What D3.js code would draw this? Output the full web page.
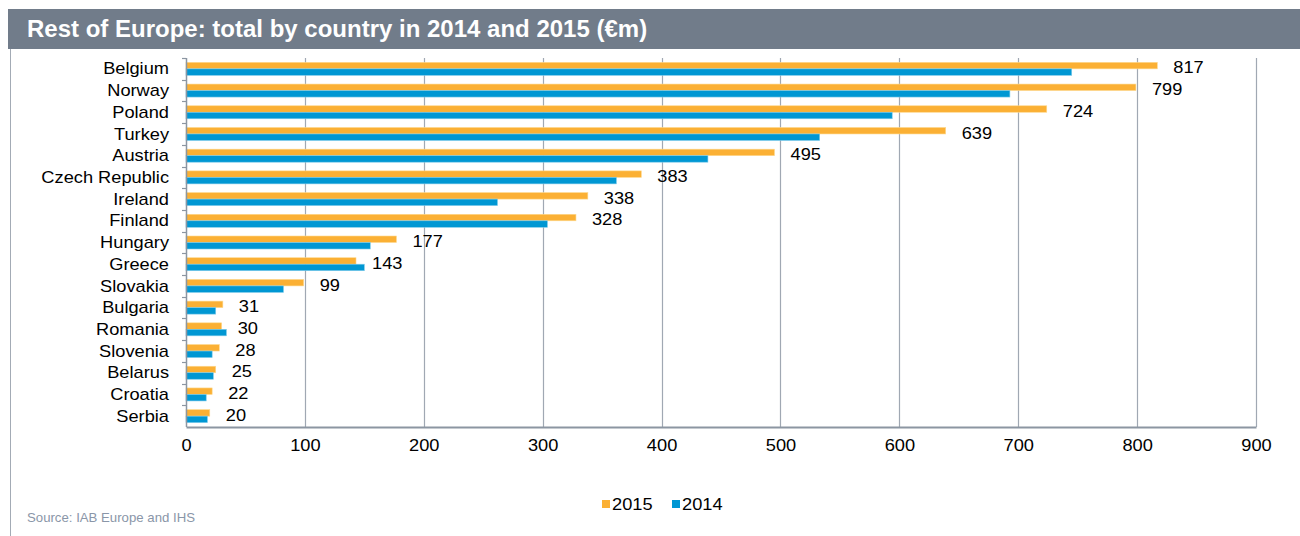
<!DOCTYPE html>
<html>
<head>
<meta charset="utf-8">
<script src="https://cdn.jsdelivr.net/npm/d3@7"></script>
<style>
body { margin: 0; background: #fff; }
svg { display: block; font-family: "Liberation Sans", Arial, sans-serif; }
</style>
</head>
<body>
<div id="chart"></div>
<script>
var countries = ["Belgium", "Norway", "Poland", "Turkey", "Austria", "Czech Republic", "Ireland",
    "Finland", "Hungary", "Greece", "Slovakia", "Bulgaria", "Romania", "Slovenia", "Belarus",
    "Croatia", "Serbia"];
var values2015 = [817, 799, 724, 639, 495, 383, 338, 328, 177, 143, 99, 31, 30, 28, 25, 22, 20];
var values2014 = [745, 693, 594, 533, 439, 362, 262, 304, 155, 150, 82, 25, 34, 22, 23, 17, 18];
var xTicks = [0, 100, 200, 300, 400, 500, 600, 700, 800, 900];
var seriesNames = ["2015", "2014"];
var colors = ["#fbb034", "#0097d3"];

var width = 1300, height = 536;
var margin = {left: 186, right: 44, top: 58, bottom: 109};
var plotW = width - margin.left - margin.right;
var plotH = height - margin.top - margin.bottom;
var stretch = 1.14; // text in the source is a bit wider than normal

var svg = d3.select("#chart").append("svg")
    .attr("width", width)
    .attr("height", height);

// header bar
svg.append("rect")
    .attr("x", 8).attr("y", 9)
    .attr("width", width - 8).attr("height", 40)
    .attr("fill", "#717c8a");
svg.append("text")
    .attr("x", 27).attr("y", 37)
    .attr("fill", "#fff")
    .style("font-size", "24px")
    .style("font-weight", "bold")
    .text("Rest of Europe: total by country in 2014 and 2015 (€m)");

// left frame line
svg.append("line")
    .attr("x1", 10.5).attr("x2", 10.5)
    .attr("y1", 49).attr("y2", height)
    .style("stroke", "#a3abb5");

var g = svg.append("g")
    .attr("transform", "translate(" + margin.left + "," + margin.top + ")");

var x = d3.scaleLinear().domain([0, 900]).range([0, plotW]);
var y = d3.scaleBand().domain(countries).range([0, plotH]);

// vertical grid lines
g.selectAll(".grid")
    .data(xTicks.slice(1))
    .enter().append("line")
    .attr("class", "grid")
    .attr("x1", function(d) { return Math.round(x(d)) + 0.5; })
    .attr("x2", function(d) { return Math.round(x(d)) + 0.5; })
    .attr("y1", 0)
    .attr("y2", plotH)
    .style("stroke", "#a0a8b3")
    .style("stroke-width", 1.2);

var barH = 6.5;

var rows = g.selectAll(".row")
    .data(countries)
    .enter().append("g")
    .attr("class", "row")
    .attr("transform", function(d) { return "translate(0," + y(d) + ")"; });

var mid = y.bandwidth() / 2;

rows.append("rect")
    .attr("x", 0)
    .attr("y", mid - barH)
    .attr("width", function(d, i) { return x(values2015[i]); })
    .attr("height", barH)
    .attr("fill", colors[0])
    .style("stroke", "#fdd98f")
    .style("stroke-width", 0.6);

rows.append("rect")
    .attr("x", 0)
    .attr("y", mid)
    .attr("width", function(d, i) { return x(values2014[i]); })
    .attr("height", barH)
    .attr("fill", colors[1])
    .style("stroke", "#7fcbea")
    .style("stroke-width", 0.6);

rows.append("text")
    .attr("transform", function(d, i) {
        return "translate(" + (x(values2015[i]) + 16) + "," + (mid - 1) + ") scale(" + stretch + ",1)";
    })
    .attr("dy", ".35em")
    .style("font-size", "16px")
    .style("fill", "#000")
    .text(function(d, i) { return values2015[i]; });

// y axis: category labels and ticks between categories
rows.append("text")
    .attr("transform", "translate(-17," + mid + ") scale(" + stretch + ",1)")
    .attr("dy", ".35em")
    .style("text-anchor", "end")
    .style("font-size", "16px")
    .style("fill", "#000")
    .text(function(d) { return d; });

g.selectAll(".ytick")
    .data(countries)
    .enter().append("line")
    .attr("class", "ytick")
    .attr("x1", -4).attr("x2", 0)
    .attr("y1", function(d) { return Math.round(y(d)) + 0.5; })
    .attr("y2", function(d) { return Math.round(y(d)) + 0.5; })
    .style("stroke", "#8c96a2")
    .style("stroke-width", 1.2);

g.append("line")
    .attr("x1", 0.5).attr("x2", 0.5)
    .attr("y1", 0).attr("y2", plotH)
    .style("stroke", "#8c96a2")
    .style("stroke-width", 1.5);

// x axis
var xAxis = g.append("g")
    .attr("transform", "translate(0," + plotH + ")")
    .call(d3.axisBottom(x).tickValues(xTicks).tickSize(0).tickPadding(13));
xAxis.select(".domain").style("stroke", "#8c96a2").style("stroke-width", 2);
xAxis.selectAll("text")
    .attr("transform", "scale(" + stretch + ",1)")
    .style("font-size", "16px")
    .style("font-family", "Liberation Sans, Arial, sans-serif")
    .style("fill", "#000");

// legend
var legend = svg.append("g").attr("transform", "translate(602,504)");
var lx = [0, 70];
seriesNames.forEach(function(name, i) {
    legend.append("rect")
        .attr("x", lx[i]).attr("y", -4)
        .attr("width", 8).attr("height", 8)
        .attr("fill", colors[i]);
    legend.append("text")
        .attr("transform", "translate(" + (lx[i] + 10) + ",0) scale(" + stretch + ",1)")
        .attr("dy", ".35em")
        .style("font-size", "16px")
        .text(name);
});

svg.append("text")
    .attr("transform", "translate(27,522) scale(1.1,1)")
    .style("font-size", "12px")
    .style("fill", "#8a96a8")
    .text("Source: IAB Europe and IHS");
</script>
</body>
</html>
